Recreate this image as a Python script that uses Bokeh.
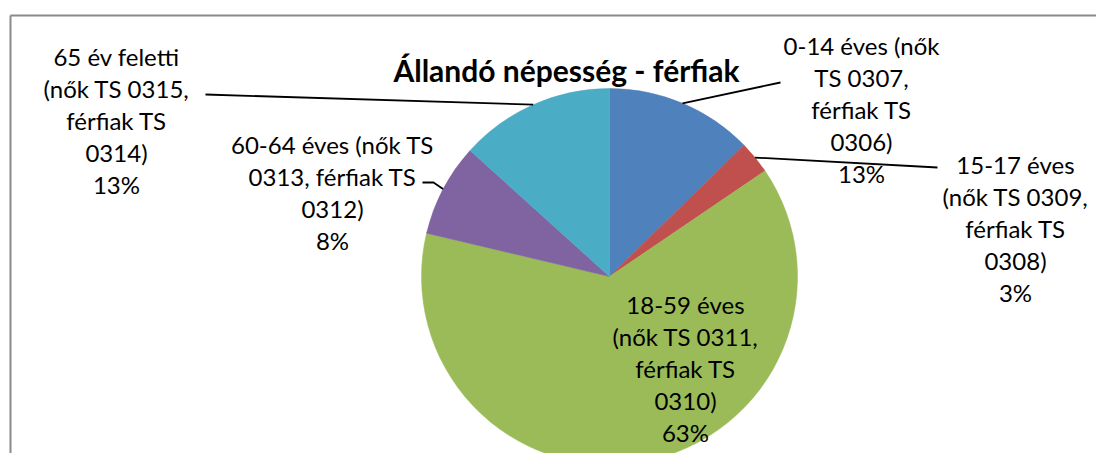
import math
from bokeh.plotting import figure
from bokeh.models import Range1d, ColumnDataSource
from bokeh.core.properties import value
from bokeh.embed import file_html
from bokeh.resources import INLINE

# ---------------- data ----------------
title = "Állandó népesség - férfiak"
categories = [
    "0-14 éves (nők\nTS 0307,\nférfiak TS\n0306)",
    "15-17 éves\n(nők TS 0309,\nférfiak TS\n0308)",
    "18-59 éves\n(nők TS 0311,\nférfiak TS\n0310)",
    "60-64 éves (nők TS\n0313, férfiak TS\n0312)",
    "65 év feletti\n(nők TS 0315,\nférfiak TS\n0314)",
]
shares = [12.7, 2.8, 63.2, 8.0, 13.3]
colors = ["#4F81BD", "#C0504D", "#9BBB59", "#8064A2", "#4BACC6"]

# ---------------- layout (pixel coords, origin top-left) ----------------
W, H = 1096, 453
def X(x): return x
def Y(y): return H - y

CX, CY, R = 609, 276, 188
label_pos = [(861, 109), (1015, 228), (685, 368), (332, 192), (116, 120)]
leader_from = [[(780, 82)], [(937, 167)], [], [(422, 182), (433, 182)], [(205, 94)]]
FONT = "Lato"

p = figure(width=W, height=H, output_backend="svg", toolbar_location=None,
           x_range=Range1d(0, W), y_range=Range1d(0, H),
           min_border=0, min_border_left=0, min_border_right=0,
           min_border_top=0, min_border_bottom=0)
p.axis.visible = False
p.grid.visible = False
p.outline_line_color = None
p.background_fill_color = "white"
p.border_fill_color = "white"

# chart-area border (top and left visible)
p.multi_line(xs=[[X(10), X(W + 20)], [X(10), X(10)]],
             ys=[[Y(15), Y(15)], [Y(15), Y(H + 20)]],
             line_color="#8a8a8a", line_width=2)

total = sum(shares)
cum = 0.0
starts, ends, mids = [], [], []
for s in shares:
    a0 = cum / total
    cum += s
    a1 = cum / total
    # clockwise from 12 o'clock
    starts.append(math.pi / 2 - 2 * math.pi * a1)
    ends.append(math.pi / 2 - 2 * math.pi * a0)
    mids.append((a0 + a1) / 2)

src = ColumnDataSource(dict(x=[X(CX)] * len(shares), y=[Y(CY)] * len(shares),
                            start=starts, end=ends, color=colors))
p.wedge(x="x", y="y", radius=R, radius_units="screen", start_angle="start",
        end_angle="end", direction="anticlock", fill_color="color",
        line_color="color", line_width=0.5, source=src)

# leader lines
for i, pts in enumerate(leader_from):
    if not pts:
        continue
    ang = 2 * math.pi * mids[i]
    ex = CX + R * math.sin(ang)
    ey = CY - R * math.cos(ang)
    xs = [X(px) for px, py in pts] + [X(ex)]
    ys = [Y(py) for px, py in pts] + [Y(ey)]
    p.line(xs, ys, line_color="black", line_width=1.8)

# labels
texts = [f"{c}\n{round(s / total * 100)}%" for c, s in zip(categories, shares)]
p.text(x=[X(a) for a, b in label_pos], y=[Y(b) for a, b in label_pos], text=texts,
       text_align="center", text_baseline="middle", text_font=value(FONT),
       text_font_size="24px", text_line_height=1.1, text_color="black")

# title
p.text(x=[X(566)], y=[Y(69)], text=[title], text_align="center",
       text_baseline="alphabetic", text_font=value(FONT), text_font_size="30px",
       text_font_style="bold", text_color="black")

open("out.html", "w").write(file_html(p, INLINE))
